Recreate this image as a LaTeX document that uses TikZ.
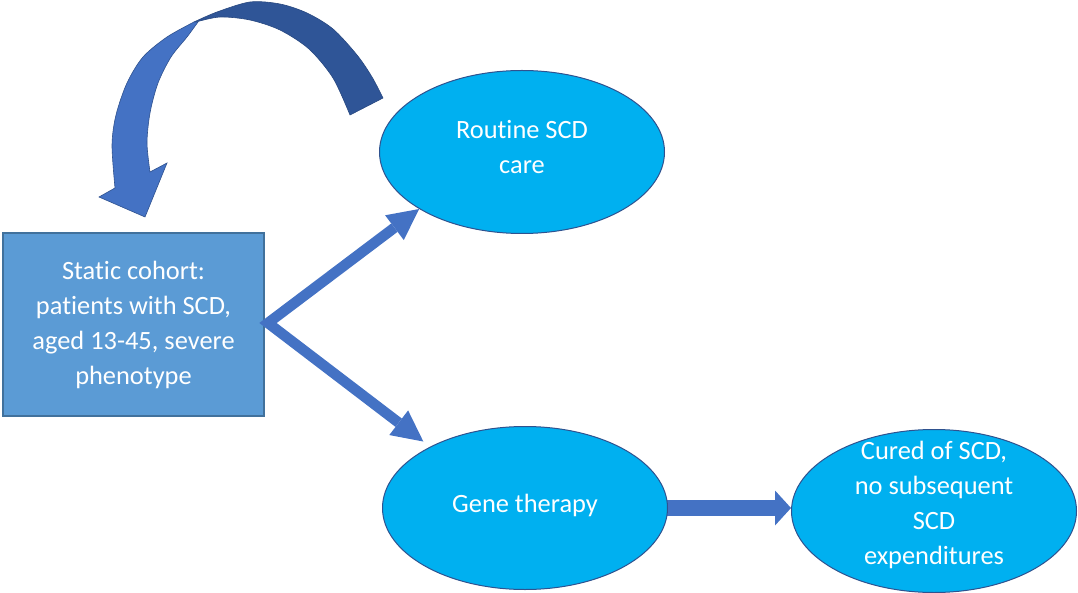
\documentclass[tikz,border=0pt]{standalone}
\usepackage{fontspec}
\setmainfont[Ligatures=NoCommon]{Carlito}
\usetikzlibrary{shapes.geometric,arrows.meta}
\definecolor{rectfill}{HTML}{5B9BD5}
\definecolor{rectline}{HTML}{41719C}
\definecolor{ellfill}{HTML}{00B0F0}
\definecolor{ellline}{HTML}{2F528F}
\definecolor{arrowblue}{HTML}{4472C4}
\definecolor{darkband}{HTML}{2F5597}
\pgfdeclarelayer{bg}
\pgfsetlayers{bg,main}
\begin{document}
\begin{tikzpicture}[x=1pt,y=-1pt,
  txt/.style={text=white,font=\fontsize{26.4}{35}\selectfont,align=center,inner sep=0pt},
  ell/.style={ellipse,draw=ellline,line width=1pt,fill=ellfill,minimum width=285pt,minimum height=163pt,inner sep=0pt},
  boxnode/.style={rectangle,draw=rectline,line width=1.3pt,fill=rectfill,minimum width=261pt,minimum height=183pt,txt},
  flow/.style={draw=arrowblue,line width=10.5pt,line join=miter,
    {Triangle[length=31pt,width=31pt,line width=0pt]}-{Triangle[length=31pt,width=31pt,line width=0pt]}},
  bigflow/.style={draw=arrowblue,line width=16pt,-{Triangle[length=16pt,width=35pt,line width=0pt]}},
]
\useasboundingbox (0,0) rectangle (1078,593);

% curved arrow (dark back band)
\filldraw[fill=darkband,draw=darkband!85!black,line width=0.6pt]
  plot[smooth] coordinates {(194,22) (217,12) (250,2) (280,4) (307,13) (333,29) (357,55) (372,77) (383,98)}
  -- (350,115)
  -- plot[smooth] coordinates {(350,115) (333,78) (309,49) (280,30) (250,20) (220,17) (196,22)}
  -- cycle;
% curved arrow (light front band with head)
\filldraw[fill=arrowblue,draw=ellline,line width=0.6pt]
  plot[smooth] coordinates {(194,22) (167,37) (143,57) (127,83) (116,115) (112,145) (115,188)}
  -- (99,197) -- (145,217) -- (167,163)
  -- plot[smooth] coordinates {(150,172) (147,143) (150,113) (158,83) (171,57) (187,37) (198,22)}
  -- cycle;

\node[boxnode] (cohort) at (133.5,324.5) {Static cohort:\\patients with SCD,\\aged 13-45, severe\\phenotype};

\node[ell] (routine) at (522,152) {};
\node[txt] (routinetxt) at ([yshift=5pt]routine.center) {Routine SCD\\care};

\node[ell] (gene) at (525,508) {};
\node[txt] (genetxt) at ([yshift=3pt]gene.center) {Gene therapy};

\node[ell] (cured) at (934,511) {};
\node[txt] (curedtxt) at ([yshift=6pt]cured.center) {Cured of SCD,\\no subsequent\\SCD\\expenditures};

\coordinate (fork) at (268,323);
\draw[flow] (routine.209) -- (fork) -- ([xshift=-7pt,yshift=5pt]gene.147);

\begin{pgfonlayer}{bg}
\draw[bigflow] ([xshift=-12pt]gene.east) -- (gene.east -| cured.west);
\end{pgfonlayer}
\end{tikzpicture}
\end{document}
